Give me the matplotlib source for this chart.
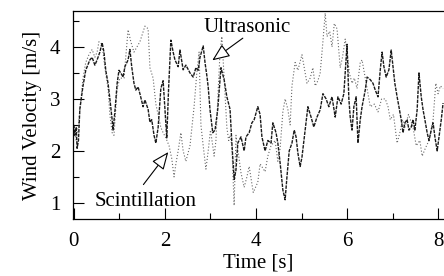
import numpy as np
import matplotlib
matplotlib.use("Agg")
import matplotlib.pyplot as plt
from matplotlib.ticker import MultipleLocator

# Ultrasonic anemometer trace (time [s], velocity [m/s])
ultra_t = [0.00, 0.02, 0.05, 0.07, 0.10, 0.13, 0.20, 0.26, 0.35, 0.40, 0.46, 0.51, 0.57, 0.62,
           0.66, 0.70, 0.75, 0.79, 0.84, 0.86, 0.90, 0.95, 0.99, 1.03, 1.08, 1.12, 1.19, 1.23,
           1.27, 1.32, 1.36, 1.41, 1.45, 1.52, 1.56, 1.63, 1.67, 1.71, 1.76, 1.80, 1.85, 1.91,
           1.96, 2.00, 2.04, 2.08, 2.13, 2.18, 2.22, 2.29, 2.33, 2.40, 2.46, 2.55, 2.62, 2.68,
           2.73, 2.77, 2.84, 2.88, 2.92, 2.95, 2.99, 3.05, 3.10, 3.16, 3.23, 3.30, 3.36, 3.43,
           3.47, 3.52, 3.56, 3.60, 3.67, 3.74, 3.78, 3.85, 3.91, 3.96, 4.04, 4.09, 4.13, 4.20,
           4.26, 4.33, 4.37, 4.44, 4.48, 4.53, 4.59, 4.64, 4.68, 4.73, 4.79, 4.84, 4.88, 4.92,
           4.97, 5.01, 5.08, 5.14, 5.21, 5.27, 5.34, 5.41, 5.47, 5.54, 5.60, 5.67, 5.74, 5.80,
           5.87, 5.93, 6.00, 6.04, 6.07, 6.11, 6.15, 6.20, 6.24, 6.29, 6.33, 6.40, 6.44, 6.51,
           6.57, 6.62, 6.68, 6.73, 6.77, 6.81, 6.86, 6.92, 6.97, 7.01, 7.05, 7.10, 7.14, 7.19,
           7.23, 7.27, 7.32, 7.36, 7.41, 7.45, 7.49, 7.54, 7.58, 7.63, 7.67, 7.71, 7.76, 7.80,
           7.85, 7.89, 7.93, 7.98, 8.02, 8.07, 8.11]
ultra_v = [2.50, 2.30, 2.45, 2.05, 2.20, 2.80, 3.25, 3.55, 3.75, 3.80, 3.65, 3.75, 3.90, 4.08,
           3.90, 3.55, 3.30, 3.00, 2.60, 2.40, 2.75, 3.30, 3.55, 3.50, 3.42, 3.62, 3.75, 3.95,
           3.62, 3.30, 3.17, 3.23, 3.10, 2.85, 2.98, 2.80, 2.55, 2.60, 2.30, 2.15, 2.45, 3.20,
           3.35, 2.80, 2.25, 3.20, 4.13, 3.90, 3.75, 3.62, 3.94, 3.56, 3.65, 3.50, 3.42, 3.60,
           3.55, 3.80, 4.02, 3.70, 3.45, 3.23, 2.79, 2.35, 2.40, 2.80, 3.60, 3.37, 3.04, 2.80,
           2.15, 1.45, 1.63, 2.15, 2.27, 2.00, 2.27, 2.35, 2.54, 2.60, 2.85, 2.70, 2.27, 2.00,
           2.20, 2.15, 2.54, 2.35, 2.15, 1.77, 1.25, 1.06, 1.50, 2.00, 2.15, 2.40, 2.27, 1.96,
           1.70, 1.88, 2.40, 2.85, 2.65, 2.46, 2.65, 2.79, 3.10, 3.00, 2.85, 3.04, 2.65, 3.04,
           2.90, 3.10, 4.05, 3.00, 2.65, 2.40, 2.85, 3.04, 2.15, 2.60, 2.85, 3.17, 3.42, 3.37,
           3.30, 3.17, 3.04, 3.56, 3.90, 3.62, 3.42, 3.56, 3.94, 3.62, 3.30, 3.04, 2.85, 2.60,
           2.35, 2.54, 2.60, 2.40, 2.46, 2.60, 2.40, 2.79, 3.50, 3.04, 2.79, 2.60, 2.35, 2.20,
           2.40, 2.54, 2.27, 2.00, 2.27, 2.60, 2.92]

# Scintillometer trace
scint_t = [0.00, 0.05, 0.10, 0.15, 0.20, 0.26, 0.33, 0.40, 0.46, 0.51, 0.55, 0.62, 0.68, 0.75,
           0.79, 0.84, 0.88, 0.95, 1.01, 1.10, 1.19, 1.25, 1.32, 1.45, 1.56, 1.63, 1.67, 1.74,
           1.80, 1.85, 1.91, 1.96, 2.02, 2.09, 2.15, 2.20, 2.24, 2.29, 2.35, 2.40, 2.46, 2.55,
           2.64, 2.70, 2.75, 2.79, 2.84, 2.90, 2.95, 3.00, 3.05, 3.08, 3.12, 3.16, 3.21, 3.25,
           3.30, 3.36, 3.40, 3.43, 3.47, 3.52, 3.56, 3.62, 3.67, 3.74, 3.80, 3.85, 3.94, 4.04,
           4.09, 4.20, 4.26, 4.33, 4.42, 4.48, 4.53, 4.59, 4.64, 4.70, 4.75, 4.79, 4.86, 4.92,
           5.01, 5.06, 5.12, 5.19, 5.25, 5.30, 5.36, 5.41, 5.47, 5.52, 5.56, 5.62, 5.67, 5.72,
           5.78, 5.85, 5.90, 5.96, 6.00, 6.05, 6.11, 6.16, 6.22, 6.29, 6.33, 6.42, 6.51, 6.60,
           6.68, 6.76, 6.84, 6.90, 6.95, 7.02, 7.10, 7.16, 7.22, 7.27, 7.35, 7.45, 7.52, 7.60,
           7.65, 7.72, 7.80, 7.89, 7.95, 8.00, 8.05, 8.11]
scint_v = [2.40, 2.20, 2.50, 2.95, 3.40, 3.70, 3.85, 3.95, 3.80, 3.90, 4.10, 4.05, 3.60, 3.20,
           2.70, 2.35, 2.30, 3.20, 3.40, 3.40, 4.33, 4.10, 3.90, 4.10, 4.40, 4.35, 3.60, 3.40,
           2.90, 2.70, 2.45, 2.35, 2.25, 2.10, 1.85, 1.50, 1.75, 2.00, 2.35, 2.00, 1.80, 2.10,
           2.85, 3.50, 3.90, 2.50, 2.10, 1.65, 2.00, 2.40, 2.10, 1.90, 2.20, 3.00, 3.90, 4.20,
           3.40, 2.45, 2.20, 2.30, 2.10, 0.95, 2.30, 1.90, 1.58, 1.30, 1.50, 1.70, 1.20, 1.40,
           1.75, 1.60, 1.90, 2.10, 2.20, 1.80, 2.05, 2.75, 3.00, 2.80, 2.50, 3.25, 3.70, 3.55,
           3.85, 3.60, 3.30, 3.40, 3.60, 3.25, 3.35, 3.50, 4.10, 4.65, 4.20, 4.30, 4.00, 4.45,
           4.35, 3.60, 3.80, 4.15, 3.90, 3.50, 3.30, 3.40, 3.20, 3.70, 3.75, 3.30, 2.85, 2.90,
           2.75, 3.00, 3.00, 2.85, 2.60, 2.70, 2.15, 2.35, 2.60, 2.45, 2.70, 2.45, 2.10, 2.20,
           1.90, 2.05, 2.20, 2.60, 3.30, 3.10, 3.25, 3.20]

xticks = [0, 2, 4, 6, 8]
yticks = [1, 2, 3, 4]

plt.rcParams['font.family'] = ['Liberation Serif', 'DejaVu Serif']

fig = plt.figure(figsize=(4.44, 2.76), dpi=100)
ax = fig.add_axes([0.1644, 0.2065, 0.8356, 0.7535])

ax.plot(scint_t, scint_v, color='#666666', lw=0.8, linestyle=(0, (1, 1.8)))
ax.plot(ultra_t, ultra_v, color='#1a1a1a', lw=1.0, linestyle=(0, (2.5, 0.8)))

ax.set_xlim(-0.02, 8.13)
ax.set_ylim(0.69, 4.69)
ax.set_xticks(xticks)
ax.set_yticks(yticks)
ax.xaxis.set_minor_locator(MultipleLocator(1))
ax.yaxis.set_minor_locator(MultipleLocator(0.5))
ax.tick_params(which='major', direction='in', length=8, width=0.8, labelsize=15, pad=9)
ax.tick_params(which='minor', direction='in', length=4, width=0.8)
ax.spines['right'].set_visible(False)
for s in ['left', 'bottom', 'top']:
    ax.spines[s].set_linewidth(0.9)

ax.set_xlabel("Time [s]", fontsize=15, labelpad=2)
ax.set_ylabel("Wind Velocity [m/s]", fontsize=15, labelpad=6)

arrow = dict(arrowstyle='-|>,head_length=0.6,head_width=0.25', color='black', lw=0.8,
             fc='white', mutation_scale=18)
ax.annotate("Ultrasonic", xy=(2.99, 3.71), xytext=(2.84, 4.37), fontsize=15,
            va='center', ha='left')
ax.annotate("", xy=(2.99, 3.71), xytext=(3.76, 4.2), arrowprops=arrow)
ax.annotate("Scintillation", xy=(2.11, 2.02), xytext=(0.46, 1.02), fontsize=15,
            va='center', ha='left')
ax.annotate("", xy=(2.11, 2.02), xytext=(1.49, 1.31), arrowprops=arrow)

fig.savefig("out.png", dpi=100)
